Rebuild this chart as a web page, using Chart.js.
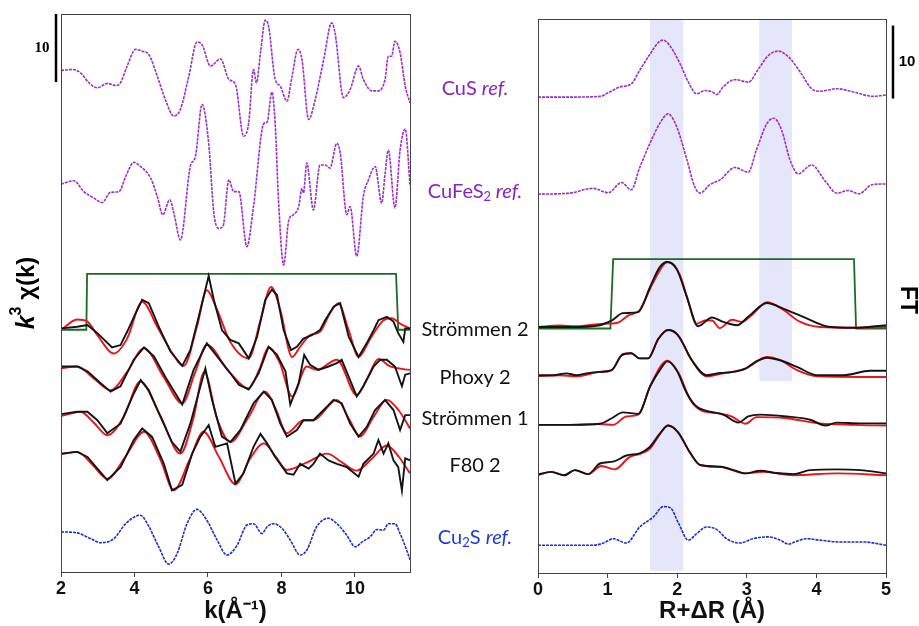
<!DOCTYPE html>
<html>
<head>
<meta charset="utf-8">
<script src="https://cdn.jsdelivr.net/npm/chart.js@4.4.1/dist/chart.umd.min.js"></script>
<style>
  html, body { margin: 0; padding: 0; background: #fff; }
  #leftBox { position: absolute; left: 0; top: 0; width: 420px; height: 626px; }
  #rightBox { position: absolute; left: 420px; top: 0; width: 499px; height: 626px; }
</style>
</head>
<body>
<div id="leftBox"><canvas id="left" width="420" height="626"></canvas></div>
<div id="rightBox"><canvas id="right" width="499" height="626"></canvas></div>
<script>
// ---- tick labels ----
const kTicks = [2, 4, 6, 8, 10];
const rTicks = [0, 1, 2, 3, 4, 5];

// ---- k-space traces: [k, k3chi] relative to each trace's baseline ----
const kCuS = [[2.0,0],[2.31,0.15],[2.53,-0.34],[2.76,-1.8],[2.99,-2.55],[3.26,-1.9],[3.49,-2.2],[3.62,-1.8],[3.80,0.64],[4.03,3.1],[4.21,2.84],[4.39,2.35],[4.62,-0.83],[4.84,-4.26],[5.07,-6.7],[5.25,-5.7],[5.48,-0.83],[5.70,4.17],[5.84,3.8],[6.07,0.64],[6.34,1.7],[6.57,-1.3],[6.75,-2.06],[6.97,-9.66],[7.11,-7.7],[7.24,0.15],[7.32,-1.8],[7.43,2.6],[7.56,7.4],[7.65,6.5],[7.83,-1.3],[7.97,-2.3],[8.15,-4.5],[8.29,-0.83],[8.45,3.1],[8.56,1.6],[8.74,-7.2],[8.92,-4.26],[9.15,1.6],[9.37,7.0],[9.46,5.5],[9.69,-4.0],[9.87,-2.8],[10.10,0.64],[10.23,-1.3],[10.46,-3.0],[10.64,-3.0],[10.82,-1.3],[10.91,2.1],[11.0,2.1],[11.09,4.3],[11.23,2.6],[11.37,-2.3],[11.5,-4.75]];
const kCuFeS2 = [[2.0,0],[2.35,0.5],[2.62,-1.1],[2.90,-2.06],[3.12,-2.7],[3.35,-1.2],[3.58,-1.1],[3.76,1.1],[3.98,3.2],[4.16,2.6],[4.44,0.9],[4.62,-1.8],[4.77,-4.5],[4.96,-2.3],[5.07,-4.2],[5.25,-8.2],[5.52,2.6],[5.66,4.1],[5.84,11.7],[6.02,6.0],[6.16,-4.2],[6.29,-6.5],[6.41,-6.2],[6.57,0.64],[6.70,-1.1],[6.84,-1.1],[7.06,-9.2],[7.24,-3.3],[7.52,8.9],[7.61,9.1],[7.74,13.5],[7.83,8.9],[7.92,-2.3],[8.06,-11.9],[8.20,-5.3],[8.33,-4.5],[8.47,-3.3],[8.56,-0.6],[8.60,-1.3],[8.69,3.1],[8.87,-3.8],[9.05,2.8],[9.19,2.8],[9.32,2.35],[9.51,6.0],[9.60,4.6],[9.78,-4.5],[9.87,-3.3],[10.05,-10.6],[10.23,-1.8],[10.37,0.64],[10.55,2.6],[10.73,-2.8],[10.82,1.4],[10.91,5.0],[11.09,-3.5],[11.23,5.0],[11.37,8.1],[11.5,-0.1]];
const kStr2Data = [[2.0,0],[2.44,0.25],[2.72,0.5],[2.99,-0.7],[3.39,-2.8],[3.62,-2.45],[3.80,-0.5],[4.03,2.2],[4.21,4.2],[4.39,3.7],[4.66,0.25],[4.98,-3.4],[5.30,-5.5],[5.52,-3.2],[5.77,2.2],[6.02,7.7],[6.16,4.2],[6.38,-0.25],[6.61,-1.7],[6.84,-2.2],[7.11,-4.4],[7.34,-1.2],[7.56,4.2],[7.74,5.7],[7.88,4.9],[8.06,-0.25],[8.26,-3.2],[8.42,-2.7],[8.60,-1.5],[8.83,-1.0],[9.05,-0.25],[9.19,1.2],[9.42,3.2],[9.60,3.7],[9.83,-1.2],[10.10,-4.2],[10.32,-2.2],[10.51,-0.25],[10.64,1.2],[10.87,1.7],[11.05,1.0],[11.18,-0.7],[11.32,-2.0],[11.37,0],[11.5,0]];
const kStr2Fit = [[2.0,-0.25],[2.44,1.3],[2.72,1.0],[2.99,-1.0],[3.44,-3.7],[3.80,-1.5],[4.21,3.9],[4.62,0.25],[4.98,-3.2],[5.34,-5.5],[5.70,0.25],[5.97,5.6],[6.25,2.7],[6.61,-2.0],[7.11,-4.4],[7.43,1.2],[7.72,6.1],[7.97,2.7],[8.29,-4.2],[8.51,-2.7],[8.78,-1.0],[9.05,-0.5],[9.32,2.2],[9.55,3.7],[9.83,-0.25],[10.10,-4.2],[10.42,-1.5],[10.78,1.2],[11.0,1.5],[11.23,0.7],[11.5,0]];
const kPhoxyData = [[2.0,0],[2.44,0],[2.72,-0.7],[3.08,-2.45],[3.35,-3.7],[3.62,-2.9],[3.98,1.0],[4.26,2.8],[4.53,1.5],[4.89,-2.0],[5.30,-5.6],[5.61,-0.5],[5.97,3.4],[6.25,1.5],[6.61,-1.0],[6.84,-2.7],[7.11,-3.4],[7.38,-1.0],[7.65,2.9],[7.88,1.7],[8.11,-0.7],[8.24,-5.6],[8.47,-2.45],[8.62,1.7],[8.78,0.25],[9.01,-0.5],[9.28,0],[9.51,0.5],[9.64,1.0],[9.83,-1.5],[10.05,-4.4],[10.23,-2.9],[10.51,0],[10.69,1.0],[10.87,1.0],[11.09,0],[11.28,-2.9],[11.37,-1.2],[11.5,-1.0]];
const kPhoxyFit = [[2.0,-0.25],[2.44,0],[2.9,-1.8],[3.35,-3.5],[3.8,-0.8],[4.26,2.7],[4.8,-1.6],[5.30,-5.4],[5.65,-0.9],[5.97,3.2],[6.55,-0.6],[7.11,-3.2],[7.4,-0.4],[7.65,2.8],[7.95,0.6],[8.29,-4.4],[8.69,0],[8.96,-0.5],[9.51,1.0],[10.05,-4.2],[10.35,-1.6],[10.64,1.1],[10.96,0],[11.5,-0.5]];
const kStr1Data = [[2.0,-0.1],[2.44,0.25],[2.72,0.25],[2.99,-1.0],[3.26,-2.9],[3.62,-1.5],[3.98,2.9],[4.17,4.9],[4.39,3.4],[4.71,-0.5],[5.02,-4.2],[5.25,-5.6],[5.52,-1.5],[5.79,3.9],[5.93,6.6],[6.11,2.0],[6.38,-3.4],[6.61,-4.2],[6.88,-2.45],[7.24,1.5],[7.52,3.2],[7.74,2.0],[7.97,-1.5],[8.15,-3.4],[8.42,-2.45],[8.60,-1.0],[8.87,-1.0],[9.15,0.5],[9.42,2.0],[9.64,1.5],[9.87,-1.5],[10.10,-3.4],[10.32,-2.0],[10.55,0.5],[10.82,2.0],[11.05,0.5],[11.23,-2.45],[11.37,-0.25],[11.5,-0.25]];
const kStr1Fit = [[2.0,-0.4],[2.53,0.25],[2.9,-1.4],[3.26,-3.2],[3.7,-0.6],[4.16,4.7],[4.7,-0.3],[5.25,-5.9],[5.6,-0.8],[5.90,6.1],[6.25,-0.8],[6.61,-4.2],[7.1,-0.6],[7.56,3.2],[7.85,0.6],[8.15,-2.9],[8.60,-1.0],[8.87,-1.0],[9.51,2.0],[9.85,-0.9],[10.14,-3.4],[10.5,-0.6],[10.87,2.0],[11.2,0.4],[11.5,-2.2]];
const kF80Data = [[2.0,-0.1],[2.44,0.15],[2.72,-0.6],[2.99,-2.3],[3.26,-4.0],[3.62,-2.1],[3.98,1.9],[4.21,3.6],[4.48,2.35],[4.80,-1.6],[5.02,-5.5],[5.30,-4.7],[5.57,-0.1],[5.79,2.35],[6.02,4.1],[6.20,0.9],[6.52,1.4],[6.75,-4.5],[6.97,-3.0],[7.24,0.9],[7.43,2.8],[7.61,1.4],[7.83,-0.6],[8.15,-3.0],[8.33,-3.2],[8.51,-1.6],[8.74,-2.3],[8.87,-1.6],[9.05,-0.1],[9.28,-1.1],[9.51,-1.6],[9.78,-2.1],[10.10,-3.5],[10.23,-1.6],[10.51,-0.1],[10.64,1.9],[10.78,-0.1],[10.91,1.4],[11.05,-1.1],[11.18,-2.1],[11.28,-5.5],[11.37,-0.8],[11.5,-1.1]];
const kF80Fit = [[2.0,-0.2],[2.44,0.15],[2.85,-1.7],[3.26,-3.8],[3.75,-0.6],[4.26,3.1],[4.7,-0.9],[5.07,-5.5],[5.5,-1.0],[5.88,3.1],[6.3,-0.6],[6.75,-4.6],[7.15,-0.8],[7.52,1.4],[7.85,-0.6],[8.15,-2.5],[8.7,-1.4],[9.24,-0.1],[9.65,-1.4],[10.05,-2.6],[10.45,-0.9],[10.87,1.1],[11.2,-0.6],[11.5,-3.0]];
const kCu2S = [[2.0,0],[2.44,-0.15],[2.81,-1.0],[3.08,-1.6],[3.44,-1.0],[3.76,1.2],[4.16,2.45],[4.35,1.2],[4.66,-2.2],[4.93,-4.75],[5.16,-3.2],[5.43,1.2],[5.70,3.3],[5.97,1.7],[6.25,-1.2],[6.52,-3.4],[6.79,-2.0],[7.06,1.0],[7.24,1.2],[7.47,-0.25],[7.61,0.75],[7.79,1.2],[8.02,0.5],[8.24,-1.2],[8.51,-3.4],[8.69,-2.7],[8.96,0.75],[9.28,2.0],[9.51,1.2],[9.78,-0.5],[10.01,-2.2],[10.19,-1.5],[10.42,-0.7],[10.60,0.35],[10.78,0.25],[10.91,1.2],[11.09,1.2],[11.23,-0.25],[11.41,-2.7],[11.5,-4.1]];
const kWindow = [[2.0,35.6],[2.69,35.6],[2.71,43.8],[11.12,43.8],[11.18,35.6],[11.5,35.6]];

// ---- R-space traces: [R, |FT|] relative to each trace's baseline ----
const rCuS = [[0,0],[0.46,0],[0.89,0.1],[1.03,0.7],[1.18,1.4],[1.34,1.8],[1.46,3.65],[1.61,5.9],[1.73,7.5],[1.80,7.8],[1.89,7.1],[2.04,4.6],[2.16,2.05],[2.28,0.45],[2.40,0.9],[2.50,0.7],[2.57,0.35],[2.66,1.4],[2.83,2.4],[3.02,2.05],[3.17,3.9],[3.31,5.7],[3.45,6.3],[3.60,5.5],[3.77,3.4],[3.93,1.15],[4.05,0.8],[4.29,1.15],[4.53,0.7],[4.82,0.1],[5.0,0.3]];
const rCuFeS2 = [[0,0],[0.46,0.15],[0.79,0.8],[1.01,0.2],[1.20,1.6],[1.34,0.6],[1.46,3.6],[1.61,7.0],[1.75,9.7],[1.87,11.0],[1.99,9.3],[2.14,4.7],[2.25,1.05],[2.33,0.15],[2.47,1.3],[2.62,2.0],[2.83,3.65],[3.02,3.0],[3.14,6.1],[3.29,9.7],[3.39,10.4],[3.50,8.8],[3.62,4.7],[3.74,2.8],[3.93,4.0],[4.13,1.75],[4.29,0.15],[4.46,0.5],[4.61,0.05],[4.80,1.3],[5.0,1.4]];
const rStr2Data = [[0,0],[0.46,0],[0.89,0.25],[1.06,0.9],[1.22,1.9],[1.44,2.05],[1.61,5.5],[1.75,8.2],[1.86,8.9],[1.99,8.0],[2.14,4.1],[2.30,0.1],[2.50,1.3],[2.66,0.7],[2.86,0.25],[3.02,1.4],[3.29,3.3],[3.53,2.5],[3.81,1.4],[4.20,0],[4.53,-0.1],[5.0,0.25]];
const rStr2Fit = [[0,0],[0.31,0.2],[0.55,0.1],[0.94,0.45],[1.13,0.55],[1.30,1.6],[1.46,2.3],[1.66,6.2],[1.86,8.9],[2.04,7.1],[2.14,4.1],[2.28,0.45],[2.40,0.9],[2.50,0.9],[2.61,-0.15],[2.79,1.0],[2.93,0.7],[3.09,1.8],[3.29,3.4],[3.50,2.5],[3.77,0.7],[4.05,0],[4.53,-0.1],[5.0,0]];
const rPhoxyData = [[0,0],[0.22,0],[0.41,0.25],[0.55,0],[0.70,0.25],[0.89,0.45],[1.06,0.7],[1.20,2.7],[1.34,3.0],[1.46,2.3],[1.58,2.3],[1.73,5.0],[1.87,6.2],[2.01,5.5],[2.21,2.05],[2.42,0],[2.62,0.3],[2.81,0.45],[2.98,0.9],[3.12,1.8],[3.29,2.4],[3.48,2.05],[3.72,1.15],[4.01,0],[4.39,0],[4.77,0.6],[5.0,0.6]];
const rPhoxyFit = [[0,-0.15],[0.31,0],[0.55,-0.15],[0.89,0.45],[1.06,0.7],[1.22,2.9],[1.34,3.0],[1.46,2.3],[1.58,2.3],[1.73,5.0],[1.87,6.2],[2.01,5.5],[2.21,2.05],[2.42,-0.15],[2.62,0.2],[2.98,0.9],[3.29,2.5],[3.48,2.05],[3.72,0.7],[4.01,-0.15],[5.0,-0.25]];
const rStr1Data = [[0,0],[0.46,0],[0.89,0.15],[1.06,0.9],[1.22,1.7],[1.44,1.5],[1.61,5.25],[1.75,7.5],[1.86,8.7],[1.99,7.5],[2.14,4.3],[2.28,2.5],[2.47,1.8],[2.66,1.4],[2.88,0.3],[3.02,1.15],[3.19,1.4],[3.57,1.15],[3.91,0.7],[4.13,-0.1],[4.29,0.3],[4.63,0.2],[5.0,0.2]];
const rStr1Fit = [[0,0],[0.46,0],[0.89,0.1],[1.08,0],[1.27,1.15],[1.44,1.4],[1.63,5.7],[1.86,8.8],[2.02,7.1],[2.19,3.4],[2.33,2.05],[2.57,1.6],[2.78,1.15],[2.98,0.15],[3.14,1.05],[3.57,0.9],[4.05,0.2],[4.53,0],[5.0,-0.1]];
const rF80Data = [[0,0],[0.19,0.35],[0.38,-0.1],[0.53,0.6],[0.72,0.05],[0.89,1.5],[1.08,1.75],[1.27,2.6],[1.46,2.9],[1.61,3.8],[1.75,5.6],[1.87,6.7],[2.01,5.8],[2.19,2.9],[2.33,1.3],[2.62,1.05],[2.81,0.6],[2.98,0.15],[3.19,0.5],[3.43,0.2],[3.67,0.05],[3.91,0.6],[4.29,0.7],[4.63,0.6],[5.0,0.15]];
const rF80Fit = [[0,-0.1],[0.19,0.35],[0.38,-0.1],[0.53,0.6],[0.72,0.05],[0.91,1.15],[1.10,0.7],[1.32,2.4],[1.46,2.8],[1.61,3.55],[1.75,5.5],[1.87,6.7],[2.01,5.8],[2.19,2.9],[2.33,1.3],[2.62,1.05],[2.98,0.15],[3.24,0.35],[3.67,-0.1],[4.29,0.15],[5.0,-0.1]];
const rCu2S = [[0,0],[0.46,0],[0.79,0],[0.94,0.3],[1.08,0.9],[1.27,0.3],[1.46,2.5],[1.66,3.9],[1.80,5.3],[1.90,5.15],[2.02,3.0],[2.16,0.7],[2.28,1.6],[2.42,2.5],[2.57,2.15],[2.71,0.9],[2.90,0.3],[3.09,0.9],[3.31,1.15],[3.48,0.7],[3.60,0.15],[3.69,0.45],[3.86,0.9],[4.05,0.7],[4.34,0.45],[4.68,0.45],[5.0,0]];
const rWindow = [[0,33.5],[1.04,33.5],[1.08,43.0],[4.54,43.0],[4.57,33.5],[5.0,33.5]];

// ---- stacking offsets (CuS, CuFeS2, Strömmen 2, Phoxy 2, Strömmen 1, F80 2, Cu2S) ----
const kOffsets = [73.7, 57.0, 35.8, 30.2, 23.3, 17.5, 5.9];
const rOffsets = [65.2, 51.9, 33.7, 27.1, 20.3, 13.5, 3.8];

// ---- highlighted R ranges [start, end, bottom] ----
const rBands = [[1.61, 2.09, 0.3], [3.18, 3.65, 26.3]];

// ---- sample labels and their heights on the R scale ----
const labelParts = [
  [['CuS ', ''], ['ref.', 'i']],
  [['CuFeS', ''], ['2', 's'], [' ref.', 'i']],
  [['Strömmen 2', '']],
  [['Phoxy 2', '']],
  [['Strömmen 1', '']],
  [['F80 2', '']],
  [['Cu', ''], ['2', 's'], ['S ', ''], ['ref.', 'i']]
];
const labelColors = ['#8a22c0', '#8a22c0', '#111', '#111', '#111', '#111', '#1f3ad6'];
const labelY = [66.4, 52.3, 33.3, 26.8, 21.2, 14.7, 4.9];

const PURPLE = '#9b30c8';
const BLUE = '#1d2fc9';
const RED = '#e8161b';
const BLACK = '#141414';
const GREEN = '#1e6a25';
const AXIS = '#444';

function shift(pairs, off) {
  return pairs.map(p => ({ x: p[0], y: p[1] + off }));
}
function ds(pairs, off, color, width, smooth, dash) {
  return {
    data: shift(pairs, off),
    borderColor: color,
    borderWidth: width,
    borderDash: dash || [],
    pointRadius: 0,
    fill: false,
    cubicInterpolationMode: smooth ? 'monotone' : 'default',
    tension: 0
  };
}

const boxPlugin = {
  id: 'box',
  afterDatasetsDraw(chart) {
    const a = chart.chartArea, ctx = chart.ctx;
    ctx.save();
    ctx.strokeStyle = AXIS;
    ctx.lineWidth = 1;
    ctx.strokeRect(Math.round(a.left) + 0.5, Math.round(a.top) + 0.5,
      Math.round(a.right - a.left), Math.round(a.bottom - a.top));
    ctx.restore();
  }
};

function drawParts(ctx, parts, cx, cy, size, color) {
  const fontOf = (k) => k === 'i' ? 'italic ' + size + 'px Lato'
    : k === 's' ? Math.round(size * 0.65) + 'px Lato' : size + 'px Lato';
  let w = 0;
  parts.forEach(p => { ctx.font = fontOf(p[1]); w += ctx.measureText(p[0]).width; });
  let x = cx - w / 2;
  ctx.fillStyle = color;
  ctx.textBaseline = 'middle';
  ctx.textAlign = 'left';
  parts.forEach(p => {
    ctx.font = fontOf(p[1]);
    ctx.fillText(p[0], x, cy + (p[1] === 's' ? size * 0.28 : 0));
    x += ctx.measureText(p[0]).width;
  });
}

function axisOptions(xMin, xMax, ticks, title, yMax, pad, axisH) {
  return {
    responsive: false,
    animation: false,
    events: [],
    layout: { padding: pad },
    plugins: { legend: { display: false }, tooltip: { enabled: false } },
    scales: {
      x: {
        type: 'linear', min: xMin, max: xMax,
        afterBuildTicks: s => { s.ticks = ticks.map(v => ({ value: v })); },
        afterFit: s => { s.height = axisH; },
        grid: { drawOnChartArea: false, drawTicks: true, tickLength: 5, color: AXIS, lineWidth: 1 },
        border: { display: true, color: AXIS, width: 1 },
        ticks: { font: { family: 'Liberation Sans', weight: 'bold', size: 18 }, color: '#111', padding: 1, maxRotation: 0 },
        title: { display: true, text: title, color: '#111',
          font: { family: 'Liberation Sans', weight: 'bold', size: 24 }, padding: { top: 0, bottom: 0 } }
      },
      y: { display: false, min: 0, max: yMax }
    }
  };
}

// ---- left panel: k space ----
const leftExtras = {
  id: 'leftExtras',
  afterDraw(chart) {
    const ctx = chart.ctx, a = chart.chartArea, y = chart.scales.y;
    ctx.save();
    // scale bar (10 units)
    ctx.strokeStyle = '#000';
    ctx.lineWidth = 2.5;
    ctx.beginPath();
    ctx.moveTo(a.left - 5, y.getPixelForValue(82));
    ctx.lineTo(a.left - 5, y.getPixelForValue(72));
    ctx.stroke();
    ctx.fillStyle = '#000';
    ctx.font = 'bold 15px "Liberation Serif"';
    ctx.textAlign = 'center';
    ctx.textBaseline = 'middle';
    ctx.fillText('10', a.left - 19, y.getPixelForValue(77));
    // y title
    ctx.translate(27, 293);
    ctx.rotate(-Math.PI / 2);
    const f1 = 'italic bold 25px "Liberation Sans"', f2 = 'bold 16px "Liberation Sans"', f3 = 'bold 24px "Liberation Sans"';
    const parts = [['k', f1, 0], ['3', f2, -10], [' χ(k)', f3, 0]];
    let w = 0;
    parts.forEach(p => { ctx.font = p[1]; w += ctx.measureText(p[0]).width; });
    let x = -w / 2;
    ctx.textAlign = 'left';
    parts.forEach(p => { ctx.font = p[1]; ctx.fillText(p[0], x, p[2]); x += ctx.measureText(p[0]).width; });
    ctx.restore();
  }
};

new Chart(document.getElementById('left'), {
  type: 'line',
  data: {
    datasets: [
      ds(kCuS, kOffsets[0], PURPLE, 1.6, true, [3, 1]),
      ds(kCuFeS2, kOffsets[1], PURPLE, 1.6, true, [3, 1]),
      ds(kStr2Data, kOffsets[2], BLACK, 1.9, false),
      ds(kStr2Fit, kOffsets[2], RED, 1.9, true),
      ds(kPhoxyData, kOffsets[3], BLACK, 1.9, false),
      ds(kPhoxyFit, kOffsets[3], RED, 1.9, true),
      ds(kStr1Data, kOffsets[4], BLACK, 1.9, false),
      ds(kStr1Fit, kOffsets[4], RED, 1.9, true),
      ds(kF80Data, kOffsets[5], BLACK, 1.9, false),
      ds(kF80Fit, kOffsets[5], RED, 1.9, true),
      ds(kCu2S, kOffsets[6], BLUE, 1.6, true, [3, 1]),
      ds(kWindow, 0, GREEN, 1.8, false)
    ]
  },
  options: axisOptions(2, 11.5, kTicks, 'k(Å⁻¹)', 82, { left: 61, right: 10, top: 14, bottom: 0 }, 54),
  plugins: [boxPlugin, leftExtras]
});

// ---- right panel: R space ----
const rightExtras = {
  id: 'rightExtras',
  beforeDatasetsDraw(chart) {
    const ctx = chart.ctx, a = chart.chartArea, x = chart.scales.x, y = chart.scales.y;
    ctx.save();
    ctx.fillStyle = '#e6e6fa';
    rBands.forEach(b => {
      const x0 = x.getPixelForValue(b[0]), x1 = x.getPixelForValue(b[1]);
      const yb = y.getPixelForValue(b[2]);
      ctx.fillRect(x0, a.top, x1 - x0, yb - a.top);
    });
    ctx.restore();
  },
  afterDraw(chart) {
    const ctx = chart.ctx, a = chart.chartArea, y = chart.scales.y;
    ctx.save();
    // sample labels
    labelParts.forEach((parts, i) => {
      drawParts(ctx, parts, a.left - 63, y.getPixelForValue(labelY[i]), 20, labelColors[i]);
    });
    // scale bar (10 units)
    ctx.strokeStyle = '#000';
    ctx.lineWidth = 2.5;
    ctx.beginPath();
    ctx.moveTo(a.right + 7, y.getPixelForValue(75));
    ctx.lineTo(a.right + 7, y.getPixelForValue(65));
    ctx.stroke();
    ctx.fillStyle = '#000';
    ctx.font = 'bold 15px "Liberation Sans"';
    ctx.textAlign = 'center';
    ctx.textBaseline = 'middle';
    ctx.fillText('10', a.right + 21, y.getPixelForValue(70));
    // FT title
    ctx.translate(a.right + 21, 300);
    ctx.rotate(Math.PI / 2);
    ctx.font = 'bold 23px "Liberation Sans"';
    ctx.fillText('FT', 0, 0);
    ctx.restore();
  }
};

new Chart(document.getElementById('right'), {
  type: 'line',
  data: {
    datasets: [
      ds(rCuS, rOffsets[0], PURPLE, 1.6, true, [3, 1]),
      ds(rCuFeS2, rOffsets[1], PURPLE, 1.6, true, [3, 1]),
      ds(rStr2Data, rOffsets[2], BLACK, 1.9, true),
      ds(rStr2Fit, rOffsets[2], RED, 1.9, true),
      ds(rPhoxyData, rOffsets[3], BLACK, 1.9, true),
      ds(rPhoxyFit, rOffsets[3], RED, 1.9, true),
      ds(rStr1Data, rOffsets[4], BLACK, 1.9, true),
      ds(rStr1Fit, rOffsets[4], RED, 1.9, true),
      ds(rF80Data, rOffsets[5], BLACK, 1.9, true),
      ds(rF80Fit, rOffsets[5], RED, 1.9, true),
      ds(rCu2S, rOffsets[6], BLUE, 1.6, true, [3, 1]),
      ds(rWindow, 0, GREEN, 1.8, false)
    ]
  },
  options: axisOptions(0, 5, rTicks, 'R+ΔR (Å)', 75.9, { left: 118, right: 33, top: 19, bottom: 0 }, 53),
  plugins: [boxPlugin, rightExtras]
});
</script>
</body>
</html>
